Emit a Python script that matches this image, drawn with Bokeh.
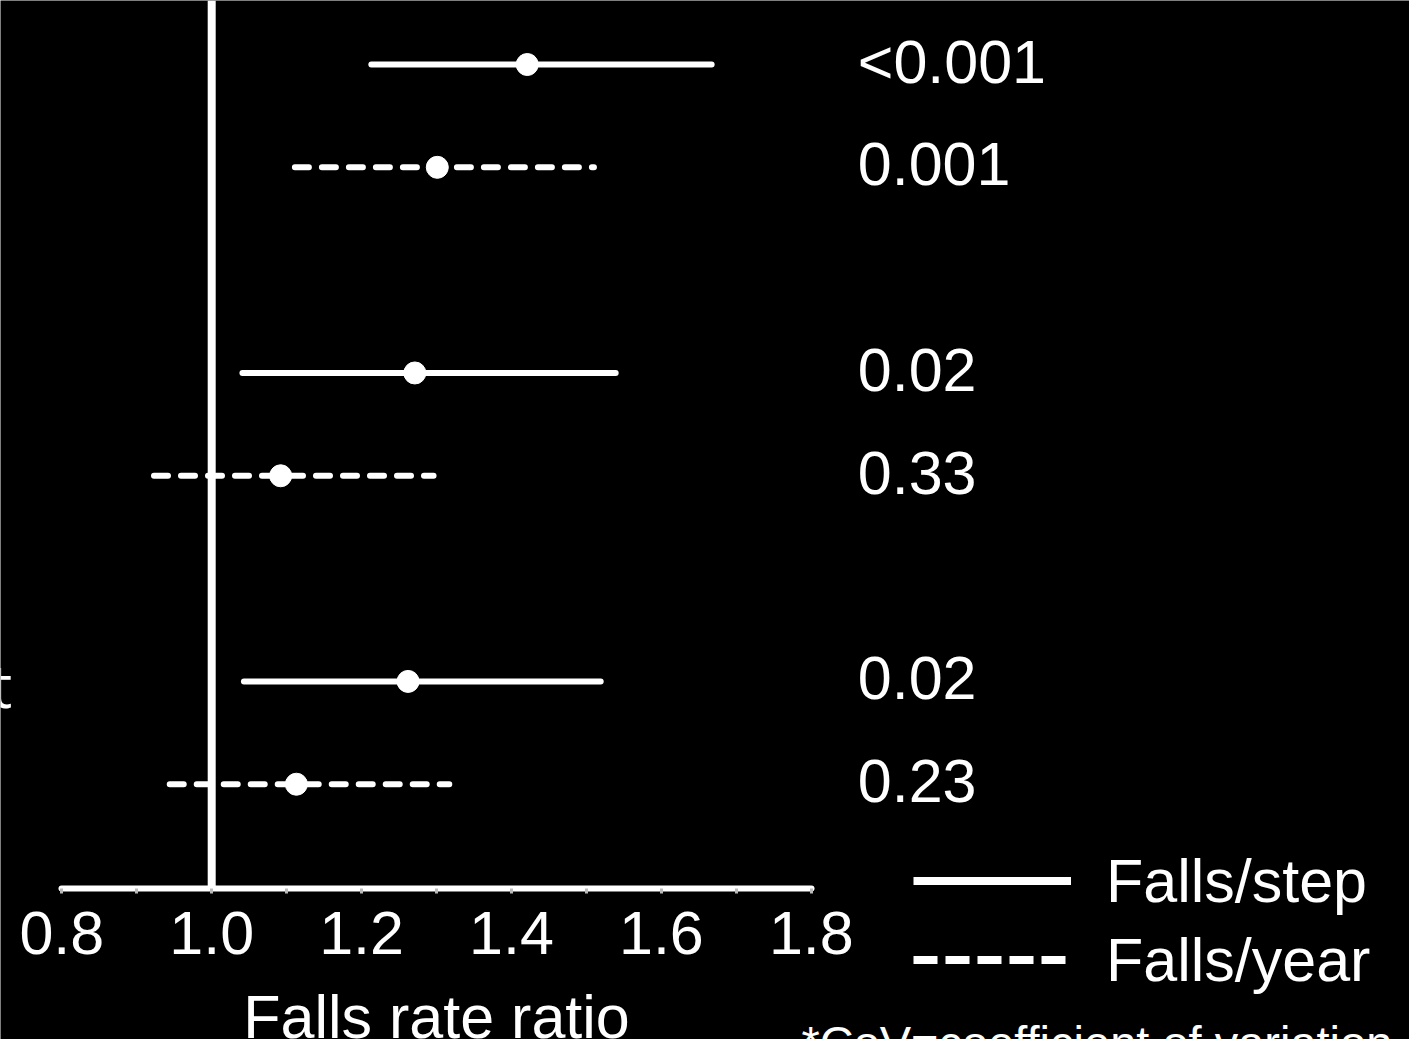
from bokeh.plotting import figure
from bokeh.models import (Range1d, LinearAxis, FixedTicker, Legend,
                          LegendItem, Label)
from bokeh.core.properties import value
from bokeh.embed import file_html
from bokeh.resources import INLINE

# ---------------- data ----------------
step_rows = [0, 3, 6]
step_est = [1.421, 1.271, 1.262]
step_low = [1.213, 1.041, 1.043]
step_high = [1.667, 1.539, 1.519]

year_rows = [1, 4, 7]
year_est = [1.301, 1.092, 1.113]
year_low = [1.111, 0.923, 0.944]
year_high = [1.510, 1.296, 1.317]

p_rows = [0, 1, 3, 4, 6, 7]
p_values = ["<0.001", "0.001", "0.02", "0.33", "0.02", "0.23"]

major_ticks = [0.8, 1.0, 1.2, 1.4, 1.6, 1.8]
tick_labels = ["0.8", "1.0", "1.2", "1.4", "1.6", "1.8"]
minor_ticks = [0.9, 1.1, 1.3, 1.5, 1.7]
reference_value = 1.0

series_names = ["Falls/step", "Falls/year"]
x_title = "Falls rate ratio"
footnote = "*CoV=coefficient of variation"
cut_label = "t"

# ---------------- layout constants ----------------
FONT = "Liberation Sans"
W, H = 1409, 1039
X_START, X_END = 0.71821, 2.59815
Y_BOTTOM, Y_TOP = 9.4828, -0.6226
AXIS_Y = 8.017
PVAL_X = 1.862
CUT_X, CUT_Y = 0.7340, 6.0
NOTE_X, NOTE_Y = 1.7868, 9.253

p = figure(width=W, height=H, output_backend="svg", toolbar_location=None,
           x_axis_type=None, y_axis_type=None,
           x_range=Range1d(X_START, X_END), y_range=Range1d(Y_BOTTOM, Y_TOP),
           min_border_left=0, min_border_right=0, min_border_top=0,
           min_border_bottom=0)
p.background_fill_color = "black"
p.border_fill_color = "black"
p.outline_line_color = None

xaxis = LinearAxis(
    fixed_location=AXIS_Y,
    ticker=FixedTicker(ticks=major_ticks, minor_ticks=minor_ticks),
    bounds=(major_ticks[0], major_ticks[-1]),
    major_label_overrides=dict(zip(major_ticks, tick_labels)),
    axis_label=x_title,
    axis_line_color="white", axis_line_width=6, axis_line_cap="round",
    major_tick_line_color="#bbbbbb", major_tick_line_width=3,
    major_tick_in=0, major_tick_out=5,
    minor_tick_line_color="#bbbbbb", minor_tick_line_width=3,
    minor_tick_in=0, minor_tick_out=5,
    major_label_text_color="white", major_label_text_font=FONT,
    major_label_text_font_size="61px", major_label_standoff=18,
    axis_label_text_color="white", axis_label_text_font=FONT,
    axis_label_text_font_size="61px", axis_label_text_font_style="normal",
    axis_label_standoff=26,
)
p.add_layout(xaxis, "below")

# reference line at rate ratio 1.0, down to the axis
p.segment(x0=[reference_value], y0=[Y_TOP], x1=[reference_value], y1=[AXIS_Y],
          line_color="white", line_width=8)

# confidence intervals
p.segment(x0=step_low, y0=step_rows, x1=step_high, y1=step_rows,
          line_color="white", line_width=6, line_cap="round")
p.segment(x0=year_low, y0=year_rows, x1=year_high, y1=year_rows,
          line_color="white", line_width=6, line_cap="round",
          line_dash="14 13")

# point estimates
p.scatter(x=step_est, y=step_rows, size=22, color="white")
p.scatter(x=year_est, y=year_rows, size=22, color="white")

# p-values
p.text(x=[PVAL_X] * len(p_values), y=p_rows, text=p_values,
       text_color="white", text_font=value(FONT), text_font_size="61px",
       text_baseline="middle", text_align="left", y_offset=-3)

# cut-off row label at the left edge
p.text(x=[CUT_X], y=[CUT_Y], text=[cut_label], text_color="white",
       text_font=value("Open Sans"), text_font_size="61px",
       text_baseline="middle", text_align="right", y_offset=3)

# legend keys (hidden renderers carrying the legend line styles)
r_step = p.segment(x0=step_low, y0=step_rows, x1=step_high, y1=step_rows,
                   line_color="white", line_width=8, line_cap="butt",
                   visible=False)
r_year = p.segment(x0=year_low, y0=year_rows, x1=year_high, y1=year_rows,
                   line_color="white", line_width=8, line_cap="butt",
                   line_dash="24 8", visible=False)
legend = Legend(
    items=[LegendItem(label=series_names[0], renderers=[r_step]),
           LegendItem(label=series_names[1], renderers=[r_year])],
    location=(913, 40), glyph_width=158, glyph_height=79, label_height=79,
    label_standoff=35, spacing=0, padding=0, margin=0,
    background_fill_alpha=0, border_line_color=None,
    inactive_fill_alpha=0, click_policy="none",
    label_text_color="white", label_text_font=FONT,
    label_text_font_size="61px",
)
p.add_layout(legend)

p.add_layout(Label(x=NOTE_X, y=NOTE_Y, text=footnote, text_color="white",
                   text_font=FONT, text_font_size="47px",
                   text_baseline="top", text_align="left"))

open("out.html", "w").write(file_html(p, INLINE))
